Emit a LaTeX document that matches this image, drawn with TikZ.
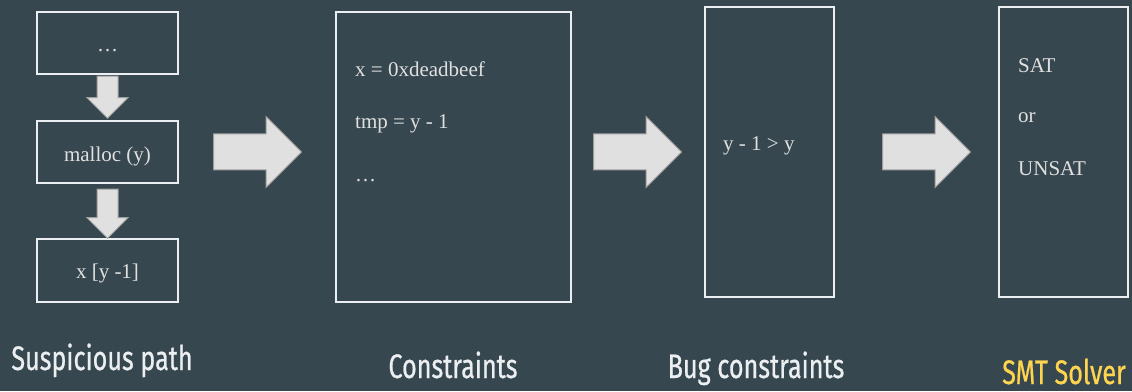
\documentclass[tikz,border=0pt]{standalone}
\usepackage{fontspec}
\setmainfont{Liberation Serif}
\newfontfamily\titlefont[FakeStretch=0.74, FakeBold=0.6]{Fira Sans}
\usepackage{xcolor}
\usepackage{tikz}
\usetikzlibrary{shapes.arrows, positioning, calc}
\definecolor{SlideBg}{HTML}{37474F}
\definecolor{SlideLine}{HTML}{ECEFF1}
\definecolor{SlideText}{HTML}{E0E0E0}
\definecolor{SlideArrow}{HTML}{E0E0E0}
\definecolor{SlideArrowEdge}{HTML}{9E9E9E}
\definecolor{SlideYellow}{HTML}{FFD54F}

\tikzset{
  flowbox/.style={draw=SlideLine, line width=1.5pt, inner sep=0pt},
  fatarrow/.style 2 args={single arrow, text height=#1, text depth=0pt,
    single arrow head extend=#2, fill=SlideArrow,
    draw=SlideArrowEdge, line width=1pt, inner sep=0pt, anchor=tail},
  codetext/.style={text=SlideText, font=\fontsize{21}{24}\selectfont, inner sep=0pt},
  steplabel/.style={text=SlideLine, font=\titlefont\fontsize{34}{38}\selectfont, inner sep=0pt},
}

\begin{document}
\begin{tikzpicture}[x=1pt,y=1pt]
  \path[use as bounding box] (0,0) rectangle (1132,391);
  \fill[SlideBg] (0,0) rectangle (1132,391);

  % suspicious path
  \node[flowbox, minimum width=141, minimum height=62] (path1) at (107.5,348) {};
  \node[flowbox, minimum width=141, minimum height=62] (path2) at (107.5,239) {};
  \node[flowbox, minimum width=141, minimum height=63] (path3) at (107.5,120.5) {};
  \node[codetext, anchor=base] at (107.5,339) {…};
  \node[codetext, anchor=base] at (107.5,229) {malloc (y)};
  \node[codetext, anchor=base] at (107.5,112) {x [y -1]};
  \node[fatarrow={20pt}{10pt}, rotate=-90, minimum height=42] (down1)
    at ($(path1.south)+(0,-1)$) {};
  \node[fatarrow={20pt}{10pt}, rotate=-90, minimum height=49] (down2)
    at ($(path2.south)+(0,-5)$) {};

  % constraint boxes
  \node[flowbox, minimum width=235, minimum height=290] (cons) at (453.5,234) {};
  \node[flowbox, minimum width=129, minimum height=290] (bug) at (769.5,239) {};
  \node[flowbox, minimum width=129, minimum height=290] (smt) at (1063.5,239) {};

  \node[codetext, anchor=base west] (c1) at (355,314) {x = 0xdeadbeef};
  \node[codetext, anchor=base west] (c2) at (355,262) {tmp = y - 1};
  \node[codetext, anchor=base west] (c3) at (355,209) {…};
  \node[codetext, anchor=base west] (b1) at (723,240) {y - 1 > y};
  \node[codetext, anchor=base west] (s1) at (1018,318) {SAT};
  \node[codetext, anchor=base west] (s2) at (1018,268) {or};
  \node[codetext, anchor=base west] (s3) at (1018,215) {UNSAT};

  % big arrows
  \foreach \x/\name in {213/right1,593/right2,882/right3}{
    \node[fatarrow={35pt}{17.5pt}, minimum height=88] (\name) at (\x,239) {};
  }

  % captions
  \node[steplabel, anchor=base] (lblpath) at (102,21) {Suspicious path};
  \node[steplabel, anchor=base] (lblcons) at (453,13) {Constraints};
  \node[steplabel, anchor=base] (lblbug) at (756,13) {Bug constraints};
  \node[steplabel, anchor=base, text=SlideYellow] (lblsmt) at (1064,7) {SMT Solver};
\end{tikzpicture}
\end{document}
